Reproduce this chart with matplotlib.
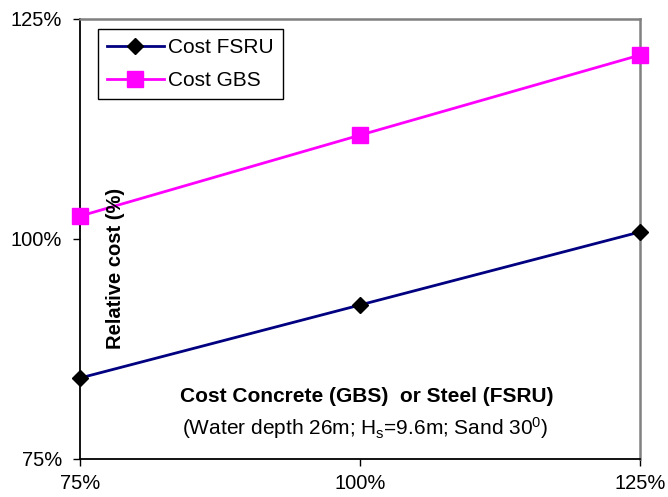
import matplotlib
matplotlib.use("Agg")
import matplotlib.pyplot as plt

plt.rcParams['font.family'] = ['Liberation Sans', 'DejaVu Sans']
plt.rcParams['mathtext.fontset'] = 'custom'
plt.rcParams['mathtext.rm'] = 'Liberation Sans'
plt.rcParams['mathtext.it'] = 'Liberation Sans:italic'
plt.rcParams['mathtext.bf'] = 'Liberation Sans:bold'

x_vals = [75, 100, 125]
cost_fsru = [84.2, 92.5, 100.8]
cost_gbs = [102.6, 111.8, 120.9]
x_ticks = [75, 100, 125]
y_ticks = [75, 100, 125]

fig = plt.figure(figsize=(6.68, 4.97), dpi=100)
ax = fig.add_axes([0.1198, 0.0765, 0.8383, 0.8853])

ax.plot(x_vals, cost_fsru, color='#000080', lw=2, marker='D', ms=8.5,
        mfc='black', mec='black', label='Cost FSRU', clip_on=False, zorder=3)
ax.plot(x_vals, cost_gbs, color='#FF00FF', lw=2, marker='s', ms=11,
        mfc='#FF00FF', mec='#FF00FF', label='Cost GBS', clip_on=False, zorder=3)

ax.set_xlim(75, 125)
ax.set_ylim(75, 125)
ax.set_xticks(x_ticks)
ax.set_yticks(y_ticks)
ax.set_xticklabels([f"{v}%" for v in x_ticks])
ax.set_yticklabels([f"{v}%" for v in y_ticks])
ax.tick_params(axis='both', labelsize=14.5, direction='out', length=5, width=1, colors='black')
ax.tick_params(axis='x', pad=6)
ax.tick_params(axis='y', pad=8)

for s in ['left', 'bottom']:
    ax.spines[s].set_color('black')
    ax.spines[s].set_linewidth(1.3)
for s in ['top', 'right']:
    ax.spines[s].set_color('#808080')
    ax.spines[s].set_linewidth(1.8)

ax.text(0.0625, 0.434, 'Relative cost (%)', transform=ax.transAxes, rotation=90,
        ha='center', va='center', fontsize=14.5, fontweight='bold')
ax.text(0.5125, 0.141, 'Cost Concrete (GBS)  or Steel (FSRU)', transform=ax.transAxes,
        ha='center', va='center', fontsize=15, fontweight='bold')
ax.text(0.509, 0.07, r'(Water depth 26m; H$_\mathrm{s}$=9.6m; Sand 30$^\mathrm{0}$)',
        transform=ax.transAxes, ha='center', va='center', fontsize=15)

leg = ax.legend(loc='upper left', bbox_to_anchor=(0.032, 0.977), fontsize=15,
                frameon=True, fancybox=False, edgecolor='black', framealpha=1,
                handlelength=2.7, borderpad=0.45, labelspacing=0.65, handletextpad=0.2,
                borderaxespad=0)
leg.get_frame().set_linewidth(1.0)

fig.savefig('out.png', dpi=100)
